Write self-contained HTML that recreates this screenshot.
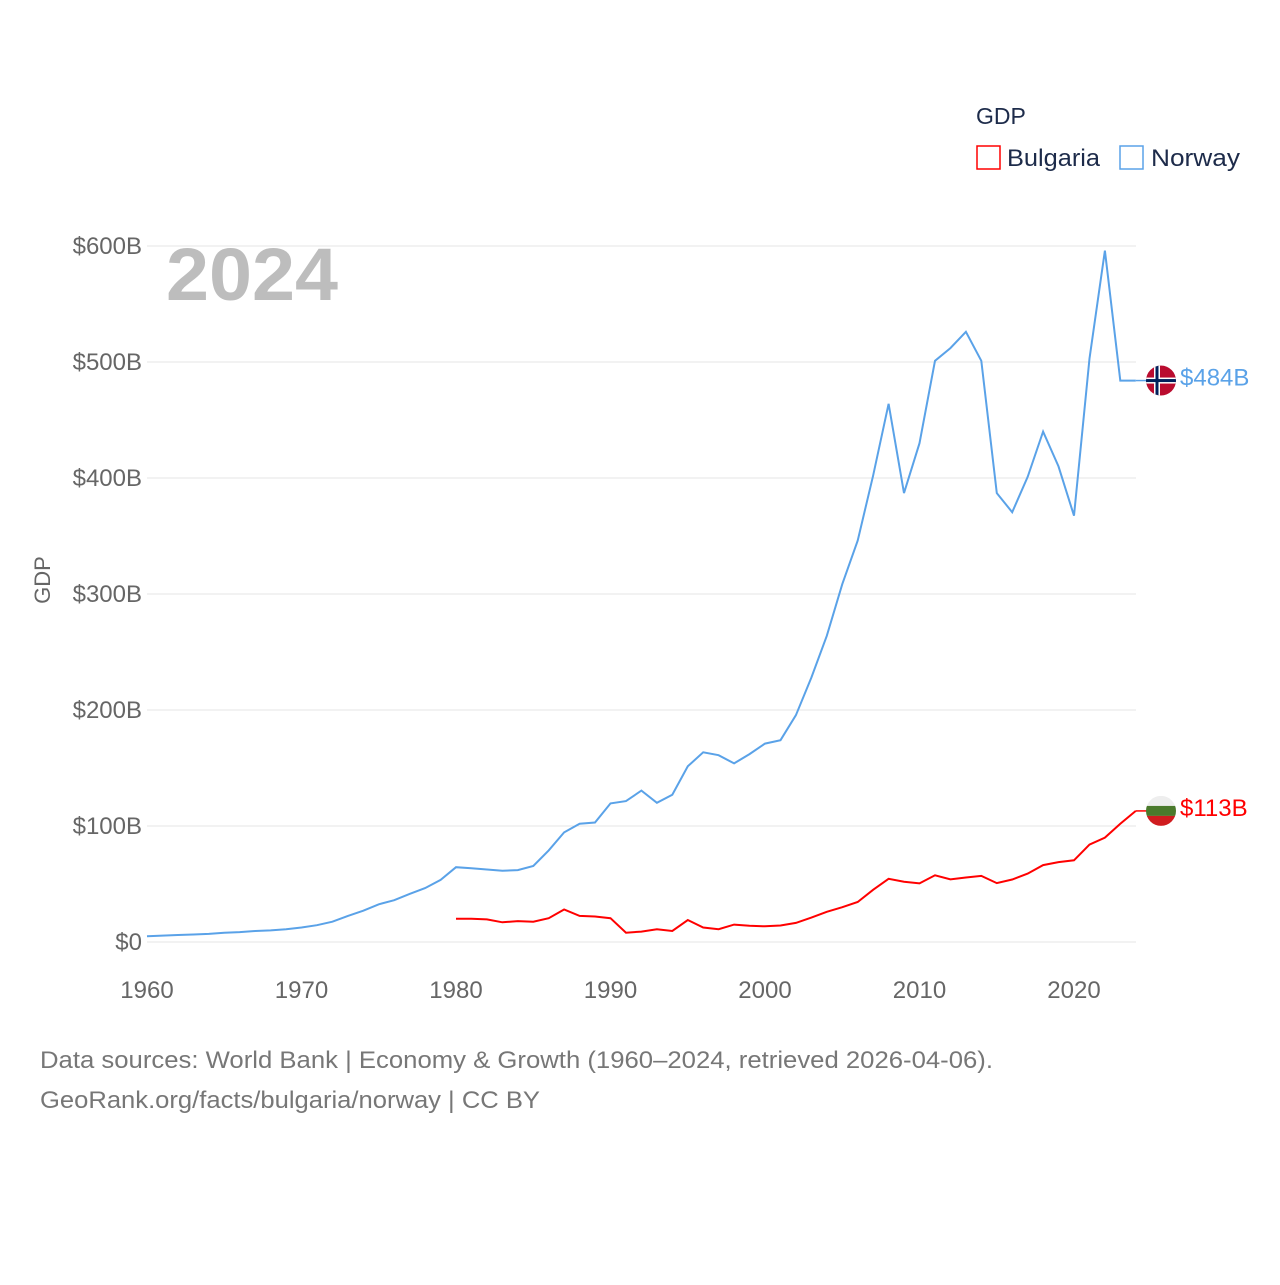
<!DOCTYPE html>
<html><head><meta charset="utf-8"><style>
body{margin:0;background:#fff;font-family:"Liberation Sans",sans-serif;}
svg text{font-family:"Liberation Sans",sans-serif;}
</style></head><body>
<svg id="chart" width="1280" height="1280" viewBox="0 0 1280 1280">
<text x="976" y="124" font-size="23" fill="#1d2b4a">GDP</text>
<g><rect x="977" y="146" width="23" height="23" fill="none" stroke="#ff0000" stroke-width="1.5"/><text x="1007" y="166" font-size="24" fill="#1d2b4a" textLength="93" lengthAdjust="spacingAndGlyphs">Bulgaria</text></g>
<g><rect x="1120" y="146" width="23" height="23" fill="none" stroke="#5aa2e8" stroke-width="1.5"/><text x="1151" y="166" font-size="24" fill="#1d2b4a" textLength="89" lengthAdjust="spacingAndGlyphs">Norway</text></g>
<text x="166" y="300" font-size="74" font-weight="bold" fill="#bdbdbd" textLength="172" lengthAdjust="spacingAndGlyphs">2024</text>
<text transform="translate(50,580) rotate(-90)" text-anchor="middle" font-size="22" fill="#666">GDP</text>
<g id="grid"></g><g id="yticks"></g><g id="xticks"></g><g id="lines"></g>
<text x="40" y="1068" font-size="24" fill="#777" textLength="953" lengthAdjust="spacingAndGlyphs">Data sources: World Bank | Economy &amp; Growth (1960–2024, retrieved 2026-04-06).</text>
<text x="40" y="1108" font-size="24" fill="#777" textLength="500" lengthAdjust="spacingAndGlyphs">GeoRank.org/facts/bulgaria/norway | CC BY</text>
</svg>
<script>
const yTicks=[0,100,200,300,400,500,600];
const xTicks=[1960,1970,1980,1990,2000,2010,2020];
const norwayYears=[];for(let y=1960;y<=2024;y++)norwayYears.push(y);
const norway=[5,5.5,6,6.5,7,8,8.5,9.5,10,11,12.5,14.5,17.5,22.5,27,32.5,36,41.5,46.5,53.5,64.5,63.5,62.5,61.5,62,65.5,79,94.5,102,103,119.5,121.5,130.5,120,127,151.5,163.5,161,154,162,171,174,195.5,228,264,308.5,346,402,464,387,430,501,512,526,501,387,370.5,401,440,410,367.5,503,596,484,484];
const bulgariaYears=[];for(let y=1980;y<=2024;y++)bulgariaYears.push(y);
const bulgaria=[20,20,19.5,17,18,17.5,20.5,28,22.5,22,20.5,8,9,11,9.5,19,12.5,11,15,14,13.5,14.2,16.5,21,26,30,34.5,45,54.5,52,50.5,57.5,54,55.6,57,50.8,53.9,59,66.3,68.9,70.4,84,90,102,113];
const X=y=>147+(y-1960)*(1074-147)/60;
const Y=v=>942-v*1.16;
const NS="http://www.w3.org/2000/svg";
function mk(t,a,p){const e=document.createElementNS(NS,t);for(const k in a)e.setAttribute(k,a[k]);p.appendChild(e);return e;}
const grid=document.getElementById('grid'),yt=document.getElementById('yticks'),xt=document.getElementById('xticks'),ln=document.getElementById('lines');
yTicks.forEach(v=>{
 const l=mk('line',{x1:147,x2:1136,y1:Y(v),y2:Y(v),stroke:'#e6e6e6','stroke-width':1},grid);
 
 
 const t=mk('text',{x:142,y:Y(v)+8,'text-anchor':'end','font-size':24,fill:'#666'},yt);
 t.textContent=v===0?'$0':'$'+v+'B';
 
 
});
xTicks.forEach(v=>{
 const t=mk('text',{x:X(v),y:998,'text-anchor':'middle','font-size':24,fill:'#666'},xt);
 t.textContent=v;
 
 
});
function series(years,vals,color,name,label,flag){
 const d=years.map((y,i)=>(i?'L':'M')+X(y).toFixed(1)+','+Y(vals[i]).toFixed(1)).join('');
 const p=mk('path',{d:d,fill:'none',stroke:color,'stroke-width':2},ln);
 
 
 const last=vals[vals.length-1],ly=Y(last),lx=X(years[years.length-1]);
 const c=mk('line',{x1:lx,x2:1150,y1:ly,y2:ly,stroke:color,'stroke-width':1.5},ln);
 
 
 const g=mk('g',{},ln);
 
 
 const cp=mk('clipPath',{id:'cp'+name},g);mk('circle',{cx:1161,cy:ly,r:15},cp);
 const fg=mk('g',{'clip-path':'url(#cp'+name+')'},g);
 if(flag==='no'){
  mk('rect',{x:1146,y:ly-15,width:30,height:30,fill:'#ba0c2f'},fg);
  mk('rect',{x:1154,y:ly-15,width:6,height:30,fill:'#fff'},fg);
  mk('rect',{x:1146,y:ly-3,width:30,height:6,fill:'#fff'},fg);
  mk('rect',{x:1155.5,y:ly-15,width:3,height:30,fill:'#00205b'},fg);
  mk('rect',{x:1146,y:ly-1.5,width:30,height:3,fill:'#00205b'},fg);
 }else{
  mk('rect',{x:1146,y:ly-15,width:30,height:10,fill:'#eee'},fg);
  mk('rect',{x:1146,y:ly-5,width:30,height:10,fill:'#4a7a2c'},fg);
  mk('rect',{x:1146,y:ly+5,width:30,height:10,fill:'#d01c1f'},fg);
 }
 const t=mk('text',{x:1180,y:ly+5,'font-size':24,fill:color},ln);
 t.textContent=label;
 
 
}
series(norwayYears,norway,'#5aa2e8','norway','$'+Math.round(norway[norway.length-1])+'B','no');
series(bulgariaYears,bulgaria,'#ff0000','bulgaria','$'+Math.round(bulgaria[bulgaria.length-1])+'B','bg');
</script>
</body></html>
